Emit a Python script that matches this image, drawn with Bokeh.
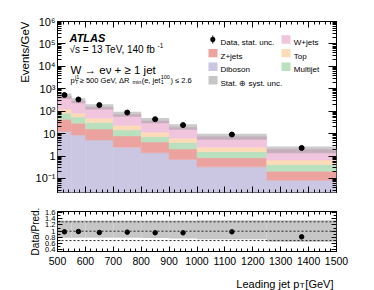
import math
import numpy as np
from bokeh.plotting import figure
from bokeh.layouts import column
from bokeh.models import (Range1d, FixedTicker, SingleIntervalTicker, CustomJSTickFormatter,
                          LinearAxis, LogAxis, Label, BoxAnnotation, Span, Title)
from bokeh.embed import file_html
from bokeh.resources import INLINE

# ---------------- data ----------------
bin_edges = [500, 550, 600, 700, 800, 900, 1000, 1250, 1500]
diboson  = [12.5, 8.7, 5.2, 2.5, 1.4, 0.71, 0.33, 0.083]
zjets    = [31.5, 20.3, 10.8, 5.4, 2.8, 1.35, 0.51, 0.127]
multijet = [38.0, 26.0, 15.0, 6.8, 3.1, 1.94, 0.72, 0.21]
top      = [42.0, 27.0, 18.0, 8.3, 4.2, 2.2, 0.89, 0.24]
wjets    = [331.0, 201.0, 103.0, 48.0, 25.5, 13.2, 4.85, 1.34]
data     = [525.0, 333.0, 188.0, 87.0, 44.0, 24.0, 9.1, 2.3]
ratio     = [0.98, 0.99, 0.96, 0.97, 0.95, 0.95, 0.98, 0.82]
ratio_err = [0.01, 0.01, 0.015, 0.02, 0.02, 0.03, 0.03, 0.06]
unc_up    = [1.34, 1.34, 1.34, 1.34, 1.34, 1.34, 1.35, 1.35]
unc_down  = [0.79, 0.79, 0.79, 0.79, 0.78, 0.77, 0.74, 0.66]
main_ticks  = [0.1, 1, 10, 100, 1e3, 1e4, 1e5, 1e6]
ratio_ticks = [0.4, 0.6, 0.8, 1.0, 1.2, 1.4, 1.6]
ratio_minor = [0.5, 0.7, 0.9, 1.1, 1.3, 1.5]
ratio_lines = [0.7, 1.0, 1.3]

COL_W = "#f1c5de"
COL_Z = "#eca39f"
COL_DB = "#cbc6e2"
COL_TOP = "#fddbb7"
COL_MJ = "#b9e0bf"
COL_UNC = "#c6c6c6"
FONT = "Liberation Sans"

# frame geometry on the page (absolute px; page has no margin)
PW = 374
FL, FR = 57, 336
MAIN_T, MAIN_B = 21, 192
H1 = 200
RAT_T, RAT_B = 211, 251
H2 = 72
H3 = 18

edges = np.array(bin_edges, dtype=float)
left, right = edges[:-1], edges[1:]
centers = (left + right) / 2

AW = {' ': 278, '.': 278, ',': 278, '(': 333, ')': 333, '/': 278, '[': 278, ']': 278,
      '=': 584, '+': 584, '-': 333, '≥': 549, '≤': 549, 'Δ': 668, '→': 1000,
      'G': 778, 'V': 667, 'R': 722, 'T': 611, 'L': 556, 'W': 944,
      'a': 556, 'b': 556, 'd': 556, 'e': 556, 'f': 278, 'g': 556, 'i': 222, 'j': 222,
      'm': 833, 'n': 556, 'p': 556, 's': 500, 't': 278}


def tw(s, size):
    return sum(AW.get(c, 556) for c in s) * size / 1000.0


def ticks_in(ax, maj, mnr):
    ax.major_tick_in = int(maj)
    ax.major_tick_out = 0
    ax.minor_tick_in = int(mnr)
    ax.minor_tick_out = 0
    ax.axis_line_color = None
    ax.major_tick_line_color = "black"
    ax.minor_tick_line_color = "black"
    ax.major_label_text_color = "black"


def no_labels(ax):
    ax.major_label_text_font_size = "1px"
    ax.major_label_text_alpha = 0
    ax.major_label_standoff = 0


def text(fig, fb, X, Y, s, size, align="left", style="normal"):
    fig.add_layout(Label(x=X - FL, y=fb - Y, x_units="screen", y_units="screen", text=s,
                         text_font=FONT, text_font_size=f"{size}px", text_font_style=style,
                         text_align=align, text_baseline="alphabetic", text_color="black"))


def box(fig, fb, x0, x1, y0, y1, color, radius=0):
    fig.add_layout(BoxAnnotation(left=x0 - FL, right=x1 - FL, top=fb - y0, bottom=fb - y1,
                                 left_units="screen", right_units="screen",
                                 top_units="screen", bottom_units="screen",
                                 fill_color=color, fill_alpha=1.0, line_alpha=0.0,
                                 border_radius=int(radius)))


def side_title(fig, s, size, align, pad):
    fig.add_layout(Title(text=s, align=align, text_font=FONT, text_font_size=f"{size}px",
                         text_font_style="normal", text_color="black", standoff=4, offset=0), "left")
    fig.add_layout(Title(text=" ", text_font_size="1px", standoff=int(pad), offset=0), "left")


# ---------------- main panel ----------------
p = figure(width=PW, height=H1, x_range=Range1d(500, 1500), y_range=Range1d(0.0237, 1e6),
           y_axis_type="log", output_backend="svg", toolbar_location=None,
           min_border_left=FL, min_border_right=PW - FR,
           min_border_top=MAIN_T, min_border_bottom=H1 - MAIN_B)
p.xgrid.visible = False
p.ygrid.visible = False
p.outline_line_color = "black"
p.outline_line_alpha = 1.0
p.outline_line_width = 1

log_minor = [k * 10.0 ** e for e in range(-2, 6) for k in range(2, 10)]
ylab_js = """
const e = Math.round(Math.log10(tick));
if (e == 0) return "1";
if (e == 1) return "10";
const sup = {"-":"\u207b","0":"\u2070","1":"\u00b9","2":"\u00b2","3":"\u00b3","4":"\u2074",
             "5":"\u2075","6":"\u2076","7":"\u2077","8":"\u2078","9":"\u2079"};
return "10" + String(e).split("").map(c => sup[c]).join("");
"""

yax = p.yaxis[0]
yax.ticker = FixedTicker(ticks=main_ticks, minor_ticks=log_minor)
yax.formatter = CustomJSTickFormatter(code=ylab_js)
ticks_in(yax, 8, 4)
yax.major_label_text_font = FONT
yax.major_label_text_font_size = "11px"
yax.major_label_standoff = 2

xax = p.xaxis[0]
xax.ticker = SingleIntervalTicker(interval=100, num_minor_ticks=5)
ticks_in(xax, 6, 3)
no_labels(xax)

ax_top = LinearAxis(ticker=SingleIntervalTicker(interval=100, num_minor_ticks=5))
ticks_in(ax_top, 6, 3)
no_labels(ax_top)
p.add_layout(ax_top, "above")

ax_right = LogAxis(ticker=FixedTicker(ticks=main_ticks, minor_ticks=log_minor))
ticks_in(ax_right, 8, 4)
no_labels(ax_right)
p.add_layout(ax_right, "right")

side_title(p, "Events/GeV", 11.5, "right", 3)

cum = np.full(len(left), 1e-4)
for vals, col in [(diboson, COL_DB), (zjets, COL_Z), (multijet, COL_MJ), (top, COL_TOP), (wjets, COL_W)]:
    new = (cum if cum[0] > 1e-3 else 0) + np.array(vals)
    p.quad(left=left, right=right, bottom=cum, top=new, fill_color=col,
           line_color=col, line_width=0.5)
    cum = new
total = cum
p.quad(left=left, right=right, bottom=total * np.array(unc_down), top=total * np.array(unc_up),
       fill_color="#999999", fill_alpha=0.5, line_color=None)

d = np.array(data)
rel = np.array(ratio_err) / np.array(ratio)
p.segment(x0=centers, y0=d * (1 - rel), x1=centers, y1=d * (1 + rel), line_color="black", line_width=1.5)
p.scatter(x=centers, y=d, size=5, color="black")

# texts
text(p, MAIN_B, 69, 37.5, "ATLAS", 11, style="bold italic")
s1 = "√s = 13 TeV, 140 fb"
text(p, MAIN_B, 69, 48.5, s1, 10)
text(p, MAIN_B, 69 + tw(s1, 10) + 0.5, 44.5, "-1", 6.5)
text(p, MAIN_B, 70, 69.5, "W → eν + ≥ 1 jet", 11.5)

B = 79.5
fs, ss = 7.5, 5.5
x = 70.0
text(p, MAIN_B, x, B, "p", fs)
x += tw("p", fs) + 0.3
text(p, MAIN_B, x, B + 1.8, "T", ss)
text(p, MAIN_B, x, B - 3.3, "j1", ss)
x += max(tw("T", ss), tw("j1", ss)) + 0.5
seg = " ≥ 500 GeV, ΔR"
text(p, MAIN_B, x, B, seg, fs)
x += tw(seg, fs) + 0.2
text(p, MAIN_B, x, B + 1.8, "min", ss)
x += tw("min", ss) + 0.4
seg = "(e, jet"
text(p, MAIN_B, x, B, seg, fs)
x += tw(seg, fs) + 0.3
text(p, MAIN_B, x, B + 1.8, "1", ss)
text(p, MAIN_B, x, B - 3.3, "100", ss)
x += tw("100", ss) + 0.5
text(p, MAIN_B, x, B, ") ≤ 2.6", fs)

# legend
rows = [39.0, 52.6, 66.2, 79.8]
c1_box, c2_box = 208.0, 281.0
c1_txt, c2_txt = 220.0, 293.3
LF = 8
box(p, MAIN_B, 211.8, 212.8, rows[0] - 4.0, rows[0] + 4.0, "black")
box(p, MAIN_B, 209.8, 214.8, rows[0] - 2.5, rows[0] + 2.5, "black", radius=2)
text(p, MAIN_B, c1_txt, rows[0] + 2.9, "Data, stat. unc.", LF)
for (cx, tx, ry, col, lab) in [
        (c2_box, c2_txt, rows[0], COL_W, "W+jets"),
        (c1_box, c1_txt, rows[1], COL_Z, "Z+jets"),
        (c2_box, c2_txt, rows[1], COL_TOP, "Top"),
        (c1_box, c1_txt, rows[2], COL_DB, "Diboson"),
        (c2_box, c2_txt, rows[2], COL_MJ, "Multijet"),
        (c1_box, c1_txt, rows[3], COL_UNC, "Stat. ⊕ syst. unc.")]:
    box(p, MAIN_B, cx, cx + 9.0, ry - 4.2, ry + 4.2, col)
    text(p, MAIN_B, tx, ry + 2.9, lab, LF)

# ---------------- ratio panel ----------------
r = figure(width=PW, height=H2, x_range=p.x_range, y_range=Range1d(0.35, 1.63),
           output_backend="svg", toolbar_location=None,
           min_border_left=FL, min_border_right=PW - FR,
           min_border_top=RAT_T - H1, min_border_bottom=H1 + H2 - RAT_B)
r.xgrid.visible = False
r.ygrid.visible = False
r.outline_line_color = "black"
r.outline_line_alpha = 1.0
r.outline_line_width = 1

rx = r.xaxis[0]
rx.ticker = SingleIntervalTicker(interval=100, num_minor_ticks=5)
ticks_in(rx, 5, 3)
rx.major_label_text_font = FONT
rx.major_label_text_font_size = "10.5px"
rx.major_label_standoff = 5

ry_ax = r.yaxis[0]
ry_ax.ticker = FixedTicker(ticks=ratio_ticks, minor_ticks=ratio_minor)
ry_ax.formatter = CustomJSTickFormatter(code="return Math.abs(tick-1)<1e-6 ? '1' : tick.toFixed(1);")
ticks_in(ry_ax, 5, 3)
ry_ax.major_label_text_font = FONT
ry_ax.major_label_text_font_size = "7.5px"
ry_ax.major_label_standoff = 2

side_title(r, "Data/Pred.", 10, "center", 18)

r_top = LinearAxis(ticker=SingleIntervalTicker(interval=100, num_minor_ticks=5))
ticks_in(r_top, 5, 3)
no_labels(r_top)
r.add_layout(r_top, "above")
r_right = LinearAxis(ticker=FixedTicker(ticks=ratio_ticks, minor_ticks=ratio_minor))
ticks_in(r_right, 5, 3)
no_labels(r_right)
r.add_layout(r_right, "right")

r.quad(left=left, right=right, bottom=unc_down, top=unc_up, fill_color=COL_UNC, line_color=None)
for v in ratio_lines:
    r.add_layout(Span(location=v, dimension="width", line_color="#222222",
                      line_dash="2 2", line_width=1))
ra = np.array(ratio)
re_ = np.array(ratio_err)
r.segment(x0=centers, y0=ra - re_, x1=centers, y1=ra + re_, line_color="black", line_width=1.5)
r.scatter(x=centers, y=ra, size=4.5, color="black")

# ---------------- x-axis title strip (frame spans the same columns as the panels) ----------------
t = figure(width=PW, height=H3, x_range=Range1d(0, FR - FL), y_range=Range1d(0, H3),
           output_backend="svg", toolbar_location=None,
           min_border_left=FL, min_border_right=PW - FR, min_border_top=0, min_border_bottom=0,
           x_axis_location=None, y_axis_location=None)
t.xgrid.visible = False
t.ygrid.visible = False
t.outline_line_color = None
T_B = H1 + H2 + H3  # absolute bottom of the strip
XT = 11
XB = 283.0
t1 = " [GeV]"
text(t, T_B, FR, XB, t1, XT, align="right")
xr = FR - tw(t1, XT) - 0.8
text(t, T_B, xr, XB + 2.0, "T", 8, align="right")
xr -= tw("T", 8) + 0.3
text(t, T_B, xr, XB, "Leading jet p", XT, align="right")

layout = column(p, r, t)
open("out.html", "w").write(file_html(layout, INLINE))
